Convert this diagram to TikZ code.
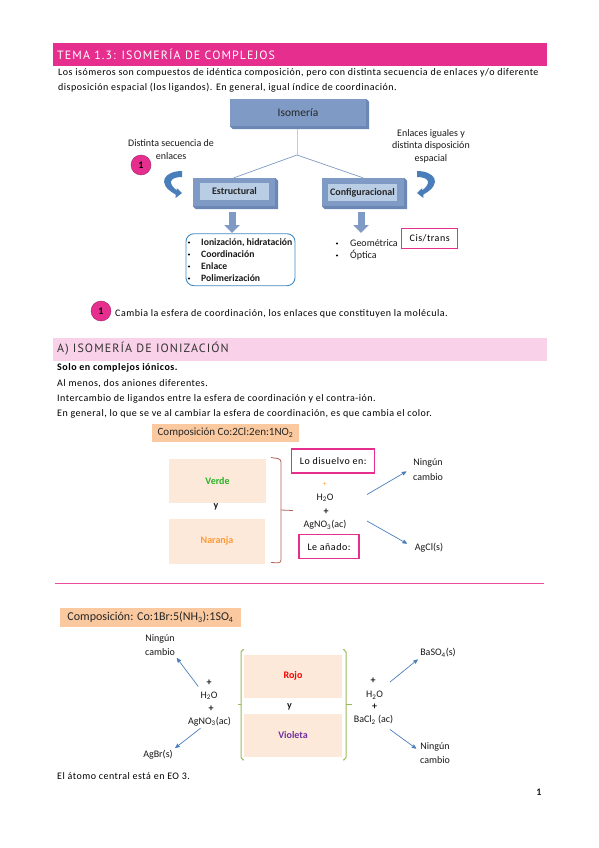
\documentclass[tikz,border=0pt]{standalone}
\usepackage{fontspec}
\setmainfont{Carlito}
\newfontfamily\titlefont[LetterSpace=9]{PT Sans}
\newfontfamily\bodyfont[LetterSpace=5]{Carlito}
\usetikzlibrary{arrows,arrows.meta,shapes.geometric}
\definecolor{fucsia}{HTML}{E62E8F}
\definecolor{rosaclaro}{HTML}{F9D1E8}
\definecolor{azulbloque}{HTML}{7F9AC4}
\definecolor{azullado}{HTML}{6A87B5}
\definecolor{azulclaro}{HTML}{B9CDE5}
\definecolor{azulflecha}{HTML}{4A7EBB}
\definecolor{salmon}{HTML}{FAC99F}
\definecolor{crema}{HTML}{FDE9D9}
\definecolor{verdellave}{HTML}{9BBB59}
\definecolor{rojollave}{HTML}{B5605A}
\definecolor{violeta}{HTML}{7030A0}
\tikzset{
  texto/.style = { inner sep=0pt, font=\bodyfont\fontsize{10}{12}\selectfont, text=black },
  linea/.style = { texto, anchor=west },
  diag/.style = { inner sep=0pt, font=\fontsize{10}{12}\selectfont, text=black!90 },
  lista/.style = { diag, anchor=west, font=\bfseries\fontsize{9.7}{12}\selectfont },
  signo/.style = { diag, font=\bfseries\fontsize{10}{12}\selectfont },
  titulo/.style = { inner sep=0pt, anchor=west, font=\titlefont\fontsize{12}{14}\selectfont },
  bloque/.style = { fill=azulbloque, inner sep=0pt },
  lado/.style = { fill=azullado },
  interno/.style = { fill=azulclaro, inner sep=0pt, font=\bfseries\fontsize{10}{12}\selectfont, text=black!85 },
  marco/.style = { draw=fucsia, line width=1.5pt, fill=white, inner sep=0pt, font=\bodyfont\fontsize{10}{12}\selectfont },
  numero/.style = { circle, fill=fucsia, draw=fucsia!70!black, minimum size=20pt, inner sep=0pt, font=\bfseries\fontsize{10}{12}\selectfont },
  composicion/.style = { fill=salmon, inner sep=0pt, text=black!85 },
  muestra/.style = { fill=crema, inner sep=0pt, font=\bfseries\fontsize{10}{12}\selectfont },
  rama/.style = { azulbloque, line width=0.7pt },
  bajada/.style = { azulbloque, line width=7pt, -{Triangle[length=8pt,width=15pt]} },
  reaccion/.style = { azulflecha, line width=0.7pt, ->, >=stealth' },
  giro/.style = { fill=azulflecha },
}
\begin{document}
\begin{tikzpicture}[x=1pt,y=-1pt]
    \useasboundingbox (0,0) rectangle (599,848);
    \fill[white] (0,0) rectangle (599,848);

    % encabezado
    \fill[fucsia] (52.5,42.7) rectangle (547,65.7);
    \node[titulo,text=white] (tema) at (57,54.2) {TEMA 1.3: ISOMERÍA DE COMPLEJOS};
    \node[linea] (intro1) at (58,73) {Los isómeros son compuestos de idéntica composición, pero con distinta secuencia de enlaces y/o diferente};
    \node[linea] (intro2) at (58,88) {disposición espacial (los ligandos). En general, igual índice de coordinación.};

    % esquema isomeria
    \node[bloque,minimum width=136pt,minimum height=27pt,font=\fontsize{11.5}{13}\selectfont,text=black!85] (isomeria) at (298,112.5) {Isomería};
    \node[bloque,minimum width=82pt,minimum height=28pt] (estructural) at (234,192) {};
    \node[bloque,minimum width=82pt,minimum height=28pt] (configuracional) at (363,192) {};
    \foreach \n in {isomeria,estructural,configuracional} {
      \fill[lado] (\n.north east) -- ([shift={(3,3)}]\n.north east) -- ([shift={(3,3)}]\n.south east) -- ([shift={(3,3)}]\n.south west) -- (\n.south west) -- (\n.south east) -- cycle;
    }
    \node[interno,minimum width=69pt,minimum height=17pt] (estr) at (234.5,191.5) {Estructural};
    \node[interno,minimum width=69pt,minimum height=17pt] (conf) at (362.5,192.5) {Configuracional};

    \coordinate (nudo) at (297,155);
    \draw[rama,azulclaro] (isomeria.south) ++(-1,3) -- (nudo);
    \draw[rama] (estructural.north) -- (nudo) -- (configuracional.north);

    \draw[bajada] (232,212) -- (232,233);
    \draw[bajada] (361,212) -- (361,233);

    % flechas curvas
    \fill[giro] (182,171) .. controls (165,171) and (155,183) .. (175.5,194.5) -- (175.6,198) -- (182,193) -- (176.7,188) -- (177,190.5) .. controls (167,183) and (170,177) .. (182,177) -- cycle;
    \begin{scope}[xshift=599pt,xscale=-1]
      \fill[giro] (182,171) .. controls (165,171) and (155,183) .. (175.5,194.5) -- (175.6,198) -- (182,193) -- (176.7,188) -- (177,190.5) .. controls (167,183) and (170,177) .. (182,177) -- cycle;
    \end{scope}

    \node[diag] (distinta) at (171,143.5) {Distinta secuencia de};
    \node[diag] (enlaces) at (171,156) {enlaces};
    \node[numero] (uno) at (141,165) {1};
    \node[diag] (iguales) at (431,134) {Enlaces iguales y};
    \node[diag] (dispo) at (431,146) {distinta disposición};
    \node[diag] (espacial) at (431,159) {espacial};

    % listas
    \draw[azulflecha!90!cyan,line width=0.9pt,rounded corners=8pt] (186,233.7) rectangle (295,285.7);
    \foreach \y/\t in {242.5/{Ionización, hidratación},254.5/Coordinación,266.5/Enlace,278.5/Polimerización} {
      \fill[black] (189,\y) circle (1.1);
      \node[lista] at (201,\y) {\t};
    }
    \foreach \y/\t in {243.5/Geométrica,255.5/Óptica} {
      \fill[black] (337,\y) circle (1.1);
      \node[diag,anchor=west] at (350,\y) {\t};
    }
    \node[marco,minimum width=56pt,minimum height=20pt] (cis) at (429.7,238.5) {Cis/trans};

    \node[numero] (uno2) at (101,311) {1};
    \node[linea] (cambia) at (115,313.5) {Cambia la esfera de coordinación, los enlaces que constituyen la molécula.};

    % apartado A
    \fill[rosaclaro] (52.5,337.5) rectangle (547,360.7);
    \node[titulo,text=black!80] (apartado) at (57,348.5) {A) ISOMERÍA DE IONIZACIÓN};
    \node[linea,font=\bodyfont\bfseries\fontsize{10}{12}\selectfont] (solo) at (57,367.7) {Solo en complejos iónicos.};
    \node[linea] (menos) at (57,383.5) {Al menos, dos aniones diferentes.};
    \node[linea] (cambio) at (57,398.5) {Intercambio de ligandos entre la esfera de coordinación y el contra-ión.};
    \node[linea] (general) at (57,414) {En general, lo que se ve al cambiar la esfera de coordinación, es que cambia el color.};

    % primer ejemplo
    \node[composicion,minimum width=147pt,minimum height=18pt,font=\fontsize{11}{13}\selectfont] (comp1) at (225.5,433) {Composición Co:2Cl:2en:1NO\textsubscript{2}};
    \node[muestra,minimum width=97pt,minimum height=44pt,text=green!65!black!85] (verde) at (217.5,481) {Verde};
    \node[signo] (y1) at (216,507) {y};
    \node[muestra,minimum width=96pt,minimum height=45pt,text=orange!80!white] (naranja) at (217,541.2) {Naranja};
    \draw[rojollave,line width=0.8pt,rounded corners=3pt] (271,457.5) -- (281,459) -- (281,510) -- (281,563) -- (271,562.5);
    \draw[rojollave,line width=0.8pt] (281,510) -- (293,510.5);

    \node[marco,minimum width=83pt,minimum height=24pt] (disuelvo) at (333.2,461) {Lo disuelvo en:};
    \node[diag,text=orange!70!white,font=\fontsize{8}{9}\selectfont] (mas1) at (324.5,484.5) {+};
    \node[diag] (agua1) at (325,498) {H\textsubscript{2}O};
    \node[signo] (mas2) at (326,512) {+};
    \node[diag] (nitrato1) at (325,525) {AgNO\textsubscript{3}(ac)};
    \node[marco,minimum width=60pt,minimum height=24pt] (anado) at (329,546.7) {Le añado:};
    \node[diag] (ningun1) at (428,463) {Ningún};
    \node[diag] (cambio1) at (428,477) {cambio};
    \node[diag] (cloruro) at (429,548) {AgCl(s)};
    \coordinate (salida1) at (367,494.5);
    \coordinate (salida2) at (367,521);
    \draw[reaccion,shorten >=8pt] (salida1) -- (ningun1.south west);
    \draw[reaccion,shorten >=9pt] (salida2) -- (cloruro.west);

    \draw[fucsia!85!white,line width=0.8pt] (55,583.3) -- (544,583.3);

    % segundo ejemplo
    \node[composicion,minimum width=181pt,minimum height=18.7pt,font=\fontsize{12}{14}\selectfont] (comp2) at (150.5,617.3) {Composición: Co:1Br:5(NH\textsubscript{3}):1SO\textsubscript{4}};
    \node[muestra,minimum width=98pt,minimum height=42.7pt,text=red] (rojo) at (293,676.3) {Rojo};
    \node[signo] (y2) at (289.5,707) {y};
    \node[muestra,minimum width=98pt,minimum height=42.7pt,text=violeta] (violet) at (293,735.3) {Violeta};

    \draw[verdellave,line width=1pt,rounded corners=2pt] (244,649.5) -- (241,650) -- (241,759.5) -- (244,760);
    \draw[verdellave,line width=1pt] (241,704) -- (238,704);
    \draw[verdellave,line width=1pt,rounded corners=2pt] (343,649.5) -- (346,650) -- (346,759.5) -- (343,760);
    \draw[verdellave,line width=1pt] (346,704) -- (352,704);

    \node[diag] (ningun2) at (160,639) {Ningún};
    \node[diag] (cambio2) at (160,652) {cambio};
    \node[signo] (mas3) at (209,682.5) {+};
    \node[diag] (agua2) at (209,695.5) {H\textsubscript{2}O};
    \node[signo] (mas4) at (211,708.5) {+};
    \node[diag] (nitrato2) at (209.5,721.5) {AgNO\textsubscript{3}(ac)};
    \node[diag] (bromuro) at (158,754.5) {AgBr(s)};
    \draw[reaccion,shorten >=3pt] (mas3.west) ++(-8,4) -- (cambio2.south east);
    \draw[reaccion,shorten >=3pt] (nitrato2.south) ++(-9,2) -- (bromuro.north east);

    \node[signo] (mas5) at (373,681) {+};
    \node[diag] (agua3) at (374.5,695) {H\textsubscript{2}O};
    \node[signo] (mas6) at (374.5,707) {+};
    \node[diag] (bario) at (373.5,720) {BaCl\textsubscript{2} (ac)};
    \node[diag] (sulfato) at (438,653) {BaSO\textsubscript{4}(s)};
    \node[diag] (ningun3) at (435,747) {Ningún};
    \node[diag] (cambio3) at (435,760) {cambio};
    \coordinate (salida3) at (390,682);
    \coordinate (salida4) at (390,729.5);
    \draw[reaccion,shorten >=3pt] (salida3) -- (sulfato.south west);
    \draw[reaccion,shorten >=5pt] (salida4) -- (ningun3.south west);

    \node[linea] (atomo) at (57,776.5) {El átomo central está en EO 3.};
    \node[diag,font=\bfseries\fontsize{10}{12}\selectfont] (pagina) at (539,792) {1};
\end{tikzpicture}
\end{document}
